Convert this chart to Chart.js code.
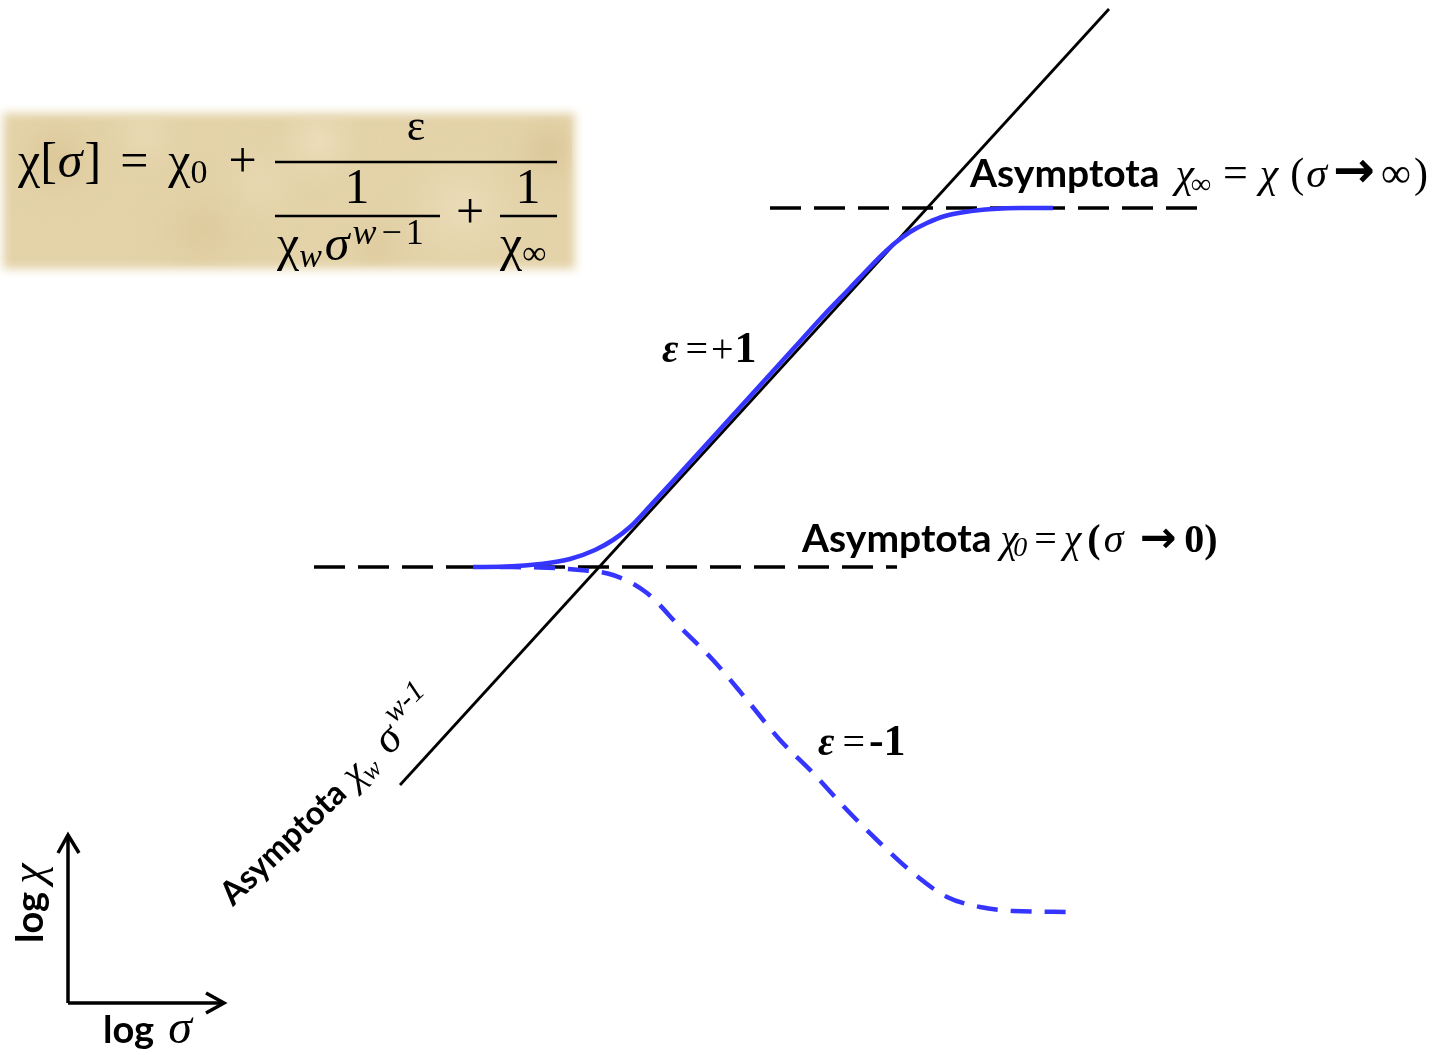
<!DOCTYPE html>
<html>
<head>
<meta charset="utf-8">
<script src="https://cdn.jsdelivr.net/npm/chart.js@4.4.1/dist/chart.umd.min.js"></script>
<style>
  html, body { margin: 0; padding: 0; background: #fff; }
  #wrap { width: 1448px; height: 1055px; position: relative; }
</style>
</head>
<body>
<div id="wrap"><canvas id="curva"></canvas></div>
<script>
// Unidades arbitrárias: eixo horizontal = log σ, eixo vertical = log χ

// Assíntota de potência χw σ^(w-1) (reta inclinada)
const asymWX = [4.00, 11.09];
const asymWY = [2.70, 10.46];

// Assíntota superior χ∞ e inferior χ0 (tracejadas)
const asymInfX = [7.70, 11.98];
const asymInfY = [8.47, 8.47];
const asymZeroX = [3.14, 8.97];
const asymZeroY = [4.88, 4.88];

// Curva ε = +1 (contínua)
const posX = [4.73, 5.07, 5.40, 5.70, 5.95, 6.13, 6.30, 6.50, 6.73, 7.04, 7.34, 7.64, 7.94,
              8.24, 8.50, 8.70, 8.84, 8.95, 9.10, 9.27, 9.45, 9.65, 9.93, 10.20, 10.53];
const posY = [4.88, 4.885, 4.91, 4.96, 5.05, 5.15, 5.28, 5.49, 5.74, 6.08, 6.41, 6.74, 7.07,
              7.40, 7.67, 7.88, 8.02, 8.12, 8.23, 8.32, 8.39, 8.43, 8.46, 8.47, 8.47];

// Curva ε = -1 (tracejada)
const negX = [5.00, 5.40, 5.80, 6.13, 6.47, 6.80, 7.13, 7.47, 7.80, 8.13, 8.47, 8.80, 9.13,
              9.47, 9.80, 10.13, 10.73];
const negY = [4.88, 4.875, 4.85, 4.80, 4.62, 4.28, 3.95, 3.55, 3.15, 2.82, 2.45, 2.12, 1.82,
              1.58, 1.48, 1.44, 1.43];

// Setas dos eixos (log σ, log χ)
const axisVX = [0.68, 0.68];
const axisVY = [0.52, 2.20];
const axisHX = [0.68, 2.24];
const axisHY = [0.52, 0.52];
const headVX = [0.58, 0.68, 0.79];
const headVY = [2.02, 2.20, 2.02];
const headHX = [2.06, 2.24, 2.06];
const headHY = [0.62, 0.52, 0.42];

const BLUE = '#3535ff';
const SERIF = '"Liberation Serif", "Times New Roman", serif';
const SANS = 'Lato, "Open Sans", sans-serif';
const ARROW = '"DejaVu Sans", "Liberation Sans", sans-serif';

const toPts = (xs, ys) => xs.map((x, i) => ({ x, y: ys[i] }));

// Rótulos: cada um é uma sequência de pedaços de texto (fonte, deslocamento vertical, espaço antes)
const labels = [
  { x: 9.70, y: 8.68, rot: 0, parts: [
    { t: 'Asymptota', f: `bold 39px ${SANS}` },
    { t: 'χ', f: `italic 42px ${SERIF}`, gap: 16 },
    { t: '∞', f: `italic 28px ${SERIF}`, dy: 6, gap: -3 },
    { t: '=', f: `44px ${SERIF}`, gap: 12 },
    { t: 'χ', f: `italic 42px ${SERIF}`, gap: 12 },
    { t: '(', f: `42px ${SERIF}`, gap: 12 },
    { t: 'σ', f: `italic 42px ${SERIF}`, gap: 2 },
    { t: '→', f: `bold 50px ${ARROW}`, gap: 6 },
    { t: '∞', f: `42px ${SERIF}`, gap: 6 },
    { t: ')', f: `42px ${SERIF}`, gap: 3 }
  ]},
  { x: 8.02, y: 5.03, rot: 0, parts: [
    { t: 'Asymptota', f: `bold 39px ${SANS}` },
    { t: 'χ', f: `italic 40px ${SERIF}`, gap: 9 },
    { t: '0', f: `italic 28px ${SERIF}`, dy: 4, gap: -5 },
    { t: '=', f: `40px ${SERIF}`, gap: 7 },
    { t: 'χ', f: `italic 40px ${SERIF}`, gap: 7 },
    { t: '(', f: `bold 40px ${SERIF}`, gap: 6 },
    { t: 'σ', f: `italic 40px ${SERIF}`, gap: 3 },
    { t: '→', f: `bold 44px ${ARROW}`, gap: 16 },
    { t: '0)', f: `bold 40px ${SERIF}`, gap: 8 }
  ]},
  { x: 6.62, y: 6.93, rot: 0, parts: [
    { t: 'ε', f: `bold italic 40px ${SERIF}` },
    { t: '=', f: `40px ${SERIF}`, gap: 7 },
    { t: '+', f: `40px ${SERIF}`, gap: 3 },
    { t: '1', f: `bold 44px ${SERIF}`, gap: 1 }
  ]},
  { x: 8.18, y: 3.00, rot: 0, parts: [
    { t: 'ε', f: `bold italic 40px ${SERIF}` },
    { t: '=', f: `40px ${SERIF}`, gap: 8 },
    { t: '-1', f: `bold 44px ${SERIF}`, gap: 4 }
  ]},
  { x: 2.33, y: 1.48, rot: -44, parts: [
    { t: 'Asymptota', f: `bold 33px ${SANS}` },
    { t: 'χ', f: `italic 40px ${SERIF}`, gap: 10 },
    { t: 'w', f: `italic 26px ${SERIF}`, dy: 6, gap: -2 },
    { t: 'σ', f: `italic 44px ${SERIF}`, gap: 14 },
    { t: 'w-1', f: `italic 30px ${SERIF}`, dy: -20, gap: 4 }
  ]},
  { x: 0.43, y: 1.12, rot: -90, parts: [
    { t: 'log', f: `bold 38px ${SANS}` },
    { t: 'χ', f: `italic 46px ${SERIF}`, gap: 8 }
  ]},
  { x: 1.03, y: 0.12, rot: 0, parts: [
    { t: 'log', f: `bold 38px ${SANS}` },
    { t: 'σ', f: `italic 48px ${SERIF}`, gap: 14 }
  ]},
  // Fórmula sobre o pergaminho
  { x: 0.18, y: 8.78, rot: 0, parts: [
    { t: 'χ[', f: `50px ${SERIF}` },
    { t: 'σ', f: `italic 50px ${SERIF}`, gap: 1 },
    { t: ']', f: `50px ${SERIF}`, gap: 2 },
    { t: '=', f: `50px ${SERIF}`, gap: 19 },
    { t: 'χ', f: `50px ${SERIF}`, gap: 20 },
    { t: '0', f: `34px ${SERIF}`, dy: 6 },
    { t: '+', f: `50px ${SERIF}`, gap: 21 }
  ]},
  { x: 4.16, y: 9.15, center: true, parts: [{ t: 'ε', f: `44px ${SERIF}` }] },
  { x: 3.57, y: 8.52, center: true, parts: [{ t: '1', f: `50px ${SERIF}` }] },
  { x: 5.28, y: 8.52, center: true, parts: [{ t: '1', f: `50px ${SERIF}` }] },
  { x: 4.70, y: 8.27, center: true, parts: [{ t: '+', f: `50px ${SERIF}` }] },
  { x: 2.77, y: 7.95, rot: 0, parts: [
    { t: 'χ', f: `50px ${SERIF}` },
    { t: 'w', f: `italic 34px ${SERIF}`, dy: 7 },
    { t: 'σ', f: `italic 50px ${SERIF}`, gap: 3 },
    { t: 'w', f: `italic 36px ${SERIF}`, dy: -16, gap: 3 },
    { t: '−', f: `36px ${SERIF}`, dy: -16, gap: 5 },
    { t: '1', f: `36px ${SERIF}`, dy: -16, gap: 4 }
  ]},
  { x: 5.00, y: 7.95, rot: 0, parts: [
    { t: 'χ', f: `50px ${SERIF}` },
    { t: '∞', f: `34px ${SERIF}`, dy: 4 }
  ]}
];

// Traços de fração da fórmula
const fracBars = [
  { x0: 2.75, x1: 5.57, y: 8.93 },
  { x0: 2.75, x1: 4.40, y: 8.39 },
  { x0: 5.00, x1: 5.57, y: 8.39 }
];

// Fundo de pergaminho atrás da fórmula
const parchment = { x0: 0.0, x1: 5.78, y0: 7.83, y1: 9.45 };
const parchmentSpots = [
  { fx: 0.10, fy: 0.30, r: 60, c: 'rgba(205,180,125,0.45)' },
  { fx: 0.35, fy: 0.75, r: 70, c: 'rgba(210,188,135,0.40)' },
  { fx: 0.55, fy: 0.20, r: 55, c: 'rgba(245,236,210,0.55)' },
  { fx: 0.80, fy: 0.60, r: 80, c: 'rgba(242,232,205,0.50)' },
  { fx: 0.95, fy: 0.25, r: 50, c: 'rgba(200,175,120,0.40)' },
  { fx: 0.25, fy: 0.15, r: 45, c: 'rgba(240,230,200,0.45)' },
  { fx: 0.65, fy: 0.85, r: 40, c: 'rgba(208,185,132,0.35)' },
  { fx: 0.45, fy: 0.45, r: 60, c: 'rgba(238,226,195,0.40)' }
];

function runWidth(ctx, parts) {
  let w = 0;
  parts.forEach(p => { ctx.font = p.f; w += (p.gap || 0) + ctx.measureText(p.t).width; });
  return w;
}

function drawRun(ctx, parts) {
  let cx = 0;
  parts.forEach(p => {
    ctx.font = p.f;
    cx += p.gap || 0;
    ctx.fillText(p.t, cx, p.dy || 0);
    cx += ctx.measureText(p.t).width;
  });
}

const diagramDecor = {
  id: 'diagramDecor',
  beforeDatasetsDraw(chart) {
    const { ctx, scales: { x, y } } = chart;
    const L = x.getPixelForValue(parchment.x0), R = x.getPixelForValue(parchment.x1);
    const T = y.getPixelForValue(parchment.y1), B = y.getPixelForValue(parchment.y0);
    ctx.save();
    ctx.filter = 'blur(5px)';
    ctx.fillStyle = '#e4d3a9';
    ctx.fillRect(L + 3, T + 3, R - L - 6, B - T - 6);
    ctx.restore();
    ctx.save();
    ctx.beginPath();
    ctx.rect(L + 6, T + 6, R - L - 12, B - T - 12);
    ctx.clip();
    ctx.filter = 'blur(8px)';
    parchmentSpots.forEach(s => {
      const cx = L + s.fx * (R - L), cy = T + s.fy * (B - T);
      const g = ctx.createRadialGradient(cx, cy, 0, cx, cy, s.r);
      g.addColorStop(0, s.c);
      g.addColorStop(1, 'rgba(228,211,169,0)');
      ctx.fillStyle = g;
      ctx.fillRect(cx - s.r, cy - s.r, 2 * s.r, 2 * s.r);
    });
    ctx.restore();
  },
  afterDatasetsDraw(chart) {
    const { ctx, scales: { x, y } } = chart;
    ctx.save();
    ctx.strokeStyle = '#000';
    ctx.lineWidth = 2.5;
    fracBars.forEach(b => {
      const py = y.getPixelForValue(b.y);
      ctx.beginPath();
      ctx.moveTo(x.getPixelForValue(b.x0), py);
      ctx.lineTo(x.getPixelForValue(b.x1), py);
      ctx.stroke();
    });
    ctx.fillStyle = '#000';
    ctx.textBaseline = 'alphabetic';
    ctx.textAlign = 'left';
    labels.forEach(l => {
      ctx.save();
      ctx.translate(x.getPixelForValue(l.x), y.getPixelForValue(l.y));
      if (l.rot) ctx.rotate(l.rot * Math.PI / 180);
      if (l.center) ctx.translate(-runWidth(ctx, l.parts) / 2, 0);
      drawRun(ctx, l.parts);
      ctx.restore();
    });
    ctx.restore();
  }
};

const lineDs = (xs, ys, extra) => Object.assign({
  data: toPts(xs, ys),
  showLine: true,
  pointRadius: 0,
  pointHoverRadius: 0,
  borderColor: '#000',
  borderWidth: 3,
  clip: false
}, extra);

new Chart(document.getElementById('curva'), {
  type: 'scatter',
  data: {
    datasets: [
      lineDs(posX, posY, { borderColor: BLUE, borderWidth: 4.5, cubicInterpolationMode: 'monotone' }),
      lineDs(negX, negY, { borderColor: BLUE, borderWidth: 4.5, borderDash: [21, 13], cubicInterpolationMode: 'monotone' }),
      lineDs(asymWX, asymWY, { borderWidth: 2.8 }),
      lineDs(asymInfX, asymInfY, { borderWidth: 3.5, borderDash: [31, 13] }),
      lineDs(asymZeroX, asymZeroY, { borderWidth: 3.5, borderDash: [31, 13] }),
      lineDs(axisVX, axisVY, { borderWidth: 3.5 }),
      lineDs(axisHX, axisHY, { borderWidth: 3.5 }),
      lineDs(headVX, headVY, { borderWidth: 3.5 }),
      lineDs(headHX, headHY, { borderWidth: 3.5 })
    ]
  },
  options: {
    responsive: true,
    maintainAspectRatio: false,
    animation: false,
    layout: { padding: 0 },
    plugins: { legend: { display: false }, tooltip: { enabled: false } },
    scales: {
      x: { type: 'linear', min: 0, max: 14.48, display: false },
      y: { type: 'linear', min: 0, max: 10.55, display: false }
    }
  },
  plugins: [diagramDecor]
});
</script>
</body>
</html>
